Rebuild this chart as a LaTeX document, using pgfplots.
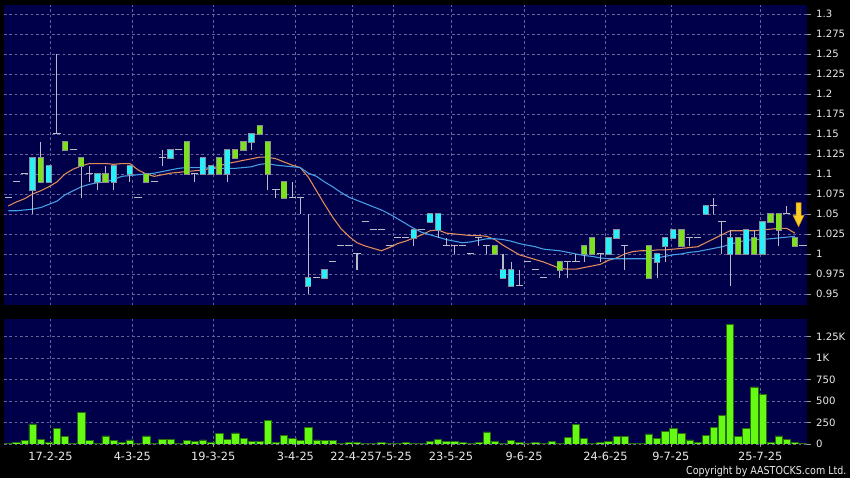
\documentclass[border=0pt]{standalone}
\usepackage{fontspec}
\setmainfont{DejaVu Sans}
\newfontfamily\cpfont[FakeStretch=0.87]{DejaVu Sans}
\usepackage{pgfplots}
\pgfplotsset{compat=1.18}
\usepackage{pgfplotstable}

\definecolor{navy}{RGB}{0,0,74}
\definecolor{gridc}{RGB}{100,100,155}
\definecolor{candcyan}{RGB}{40,240,250}
\definecolor{candgreen}{RGB}{125,225,30}
\definecolor{candedge}{RGB}{140,140,150}
\definecolor{volgreen}{RGB}{100,250,20}
\definecolor{voledge}{RGB}{40,110,10}
\definecolor{wick}{RGB}{185,185,200}
\definecolor{maorange}{RGB}{228,140,90}
\definecolor{mablue}{RGB}{70,160,230}
\definecolor{labc}{RGB}{235,235,235}
\definecolor{tickc}{RGB}{150,150,150}
\definecolor{arrowfill}{RGB}{250,205,40}
\definecolor{arrowedge}{RGB}{200,140,0}

% down arrow marker for the last bar
\pgfdeclareplotmark{downarrow}{%
  \pgfpathmoveto{\pgfqpoint{-1.9pt}{9pt}}%
  \pgfpathlineto{\pgfqpoint{1.9pt}{9pt}}%
  \pgfpathlineto{\pgfqpoint{1.9pt}{-0.5pt}}%
  \pgfpathlineto{\pgfqpoint{4.1pt}{-0.5pt}}%
  \pgfpathlineto{\pgfqpoint{0pt}{-9pt}}%
  \pgfpathlineto{\pgfqpoint{-4.1pt}{-0.5pt}}%
  \pgfpathlineto{\pgfqpoint{-1.9pt}{-0.5pt}}%
  \pgfpathclose
  \pgfusepathqfillstroke}

% t: 0 = no body, 1 = cyan, 2 = green
\pgfplotstableread{
i lo hi bot top t
0 1.07 1.07 1.07 1.07 0
1 1.09 1.09 1.09 1.09 0
2 1.10 1.10 1.10 1.10 0
3 1.05 1.12 1.08 1.12 1
4 1.09 1.14 1.09 1.12 2
5 1.09 1.11 1.09 1.11 1
6 1.15 1.25 1.15 1.15 0
7 1.13 1.14 1.13 1.14 2
8 1.13 1.13 1.13 1.13 0
9 1.07 1.12 1.11 1.12 2
10 1.09 1.11 1.10 1.10 0
11 1.08 1.10 1.09 1.10 1
12 1.09 1.11 1.09 1.10 2
13 1.08 1.11 1.09 1.11 1
15 1.09 1.11 1.10 1.11 1
16 1.07 1.07 1.07 1.07 0
17 1.09 1.10 1.09 1.10 2
18 1.09 1.09 1.09 1.09 0
19 1.11 1.13 1.12 1.12 0
20 1.12 1.13 1.12 1.13 1
21 1.13 1.13 1.13 1.13 0
22 1.10 1.14 1.10 1.14 2
23 1.09 1.10 1.10 1.10 0
24 1.10 1.12 1.10 1.12 1
25 1.10 1.11 1.10 1.11 1
26 1.10 1.12 1.10 1.12 2
27 1.09 1.13 1.10 1.13 1
28 1.12 1.13 1.12 1.13 2
29 1.13 1.14 1.13 1.14 2
30 1.13 1.15 1.14 1.15 1
31 1.15 1.16 1.15 1.16 2
32 1.08 1.14 1.10 1.14 2
33 1.07 1.08 1.08 1.08 0
34 1.07 1.09 1.07 1.09 2
35 1.07 1.09 1.07 1.07 0
36 1.05 1.07 1.07 1.07 0
37 0.95 1.05 0.96 0.97 1
38 0.97 0.97 0.97 0.97 0
39 0.97 0.98 0.97 0.98 1
40 0.99 0.99 0.99 0.99 0
41 1.01 1.01 1.01 1.01 0
42 1.01 1.01 1.01 1.01 0
43 0.98 1.00 1.00 1.00 0
44 1.04 1.04 1.04 1.04 0
45 1.03 1.03 1.03 1.03 0
46 1.03 1.03 1.03 1.03 0
47 1.01 1.01 1.01 1.01 0
48 1.02 1.02 1.02 1.02 0
49 1.02 1.02 1.02 1.02 0
50 1.01 1.03 1.02 1.03 1
51 1.03 1.03 1.03 1.03 0
52 1.04 1.05 1.04 1.05 1
53 1.02 1.05 1.03 1.05 1
54 1.01 1.02 1.01 1.01 0
55 1.00 1.01 1.01 1.01 0
56 1.01 1.01 1.01 1.01 0
57 1.00 1.00 1.00 1.00 0
58 1.01 1.02 1.02 1.02 0
59 1.00 1.01 1.01 1.01 0
60 1.00 1.01 1.00 1.01 2
61 0.97 1.00 0.97 0.98 1
62 0.96 0.99 0.96 0.98 1
63 0.96 0.98 0.96 0.96 0
64 0.99 0.99 0.99 0.99 0
65 0.98 0.98 0.98 0.98 0
66 0.97 0.97 0.97 0.97 0
68 0.97 0.99 0.98 0.99 2
69 0.97 0.99 0.99 0.99 0
70 0.99 1.00 0.99 0.99 0
71 0.99 1.01 1.00 1.01 2
72 1.00 1.02 1.00 1.02 2
73 0.99 1.00 1.00 1.00 0
74 1.00 1.02 1.00 1.02 1
75 1.02 1.03 1.02 1.03 1
76 0.98 1.01 1.01 1.01 0
79 0.97 1.01 0.97 1.01 2
80 0.97 1.00 0.99 1.00 1
81 0.99 1.02 1.01 1.02 1
82 1.02 1.03 1.02 1.03 1
83 1.01 1.03 1.01 1.03 2
84 1.01 1.02 1.02 1.02 0
85 1.02 1.02 1.02 1.02 0
86 1.05 1.06 1.05 1.06 1
87 1.05 1.07 1.06 1.06 0
88 1.00 1.04 1.04 1.04 0
89 0.96 1.03 1.00 1.02 1
90 1.00 1.02 1.00 1.02 2
91 1.00 1.03 1.00 1.03 1
92 1.00 1.03 1.00 1.02 2
93 1.00 1.04 1.00 1.04 1
94 1.04 1.05 1.04 1.05 2
95 1.01 1.05 1.03 1.05 2
96 1.05 1.06 1.05 1.05 0
97 1.01 1.02 1.01 1.02 2
98 1.01 1.01 1.01 1.01 0
}\candles

\pgfplotstableread{
i a b
0 1.060 1.054
1 1.065 1.054
2 1.069 1.055
3 1.075 1.056
4 1.079 1.058
5 1.084 1.062
6 1.090 1.066
7 1.100 1.074
8 1.106 1.079
9 1.110 1.084
10 1.113 1.087
11 1.113 1.089
12 1.113 1.090
13 1.112 1.093
14 1.113 1.097
15 1.113 1.098
16 1.105 1.099
17 1.100 1.100
18 1.097 1.101
19 1.099 1.103
20 1.101 1.105
21 1.102 1.107
22 1.103 1.108
23 1.104 1.108
24 1.105 1.108
25 1.107 1.107
26 1.110 1.107
27 1.113 1.107
28 1.115 1.107
29 1.117 1.108
30 1.119 1.109
31 1.121 1.112
32 1.121 1.113
33 1.119 1.111
34 1.115 1.110
35 1.111 1.109
36 1.108 1.108
37 1.096 1.101
38 1.079 1.097
39 1.062 1.090
40 1.046 1.084
41 1.032 1.077
42 1.022 1.071
43 1.014 1.067
44 1.010 1.063
45 1.007 1.059
46 1.004 1.055
47 1.008 1.050
48 1.013 1.044
49 1.016 1.038
50 1.020 1.032
51 1.024 1.027
52 1.029 1.024
53 1.030 1.021
54 1.026 1.018
55 1.025 1.016
56 1.024 1.014
57 1.023 1.015
58 1.023 1.017
59 1.022 1.019
60 1.018 1.019
61 1.011 1.018
62 1.005 1.016
63 0.999 1.013
64 0.996 1.011
65 0.993 1.009
66 0.990 1.006
67 0.986 1.005
68 0.982 1.004
69 0.981 1.002
70 0.981 1.000
71 0.983 0.998
72 0.985 0.997
73 0.987 0.995
74 0.992 0.994
75 0.995 0.994
76 1.000 0.994
77 1.003 0.994
78 1.004 0.994
79 1.004 0.994
80 1.005 0.995
81 1.005 0.997
82 1.006 0.999
83 1.007 1.000
84 1.008 1.002
85 1.009 1.003
86 1.014 1.005
87 1.019 1.007
88 1.024 1.009
89 1.029 1.012
90 1.029 1.015
91 1.029 1.017
92 1.029 1.018
93 1.030 1.018
94 1.031 1.019
95 1.032 1.020
96 1.032 1.021
97 1.026 1.022
}\mas

\pgfplotstableread{
i v
0 5
1 23
2 45
3 235
4 57
5 15
6 178
7 87
8 3
9 367
10 38
11 3
12 95
13 38
14 23
15 49
16 11
17 95
18 3
19 53
20 57
21 4
22 38
23 27
24 49
25 23
26 125
27 53
28 129
29 61
30 34
31 34
32 273
33 15
34 98
35 61
36 45
37 190
38 49
39 38
40 42
41 4
42 15
43 15
44 11
45 3
46 15
47 3
48 11
49 15
50 11
51 11
52 34
53 53
54 34
55 34
56 15
57 3
58 19
59 140
60 27
61 11
62 42
63 15
64 4
65 15
66 11
67 27
68 11
69 76
70 227
71 64
72 4
73 15
74 34
75 87
76 87
77 8
78 4
79 117
80 61
81 144
82 178
83 125
84 49
85 15
86 102
87 193
88 330
89 1390
90 87
91 186
92 665
93 578
94 15
95 95
96 57
97 15
98 11
}\vol

\pgfplotsset{
  chart/.style={
    scale only axis,
    width=602.6pt,
    xmin=-0.53, xmax=98.55,
    axis background/.style={fill=navy},
    axis line style={draw=none},
    xtick={5.2,15.29,25.28,35.41,42.44,47.47,54.59,63.61,73.64,81.71,92.73},
    grid=major,
    major grid style={gridc, dash pattern=on 2pt off 2pt, line width=0.5pt},
    ytick pos=right, xtick pos=left,
    tick align=outside,
    major tick length=2.4pt,
    tick style={tickc, line width=0.6pt},
    yticklabel style={font=\fontsize{7.6}{8}\selectfont, text=labc, xshift=0.6pt},
  },
  body/.style={draw=none, mark=none,
    /pgfplots/error bars/y dir=plus,
    /pgfplots/error bars/y explicit,
    /pgfplots/error bars/error mark=none},
}

\begin{document}
\begin{tikzpicture}
\fill[black] (0,0) rectangle (637.5pt,358.5pt);
\path[use as bounding box] (0,0) rectangle (637.5pt,358.5pt);

% price panel
\begin{axis}[chart,
  at={(3pt,129.4pt)}, anchor=south west,
  height=225.4pt,
  ymin=0.93563, ymax=1.31125,
  ytick={0.95,0.975,1,1.025,1.05,1.075,1.1,1.125,1.15,1.175,1.2,1.225,1.25,1.275,1.3},
  yticklabels={0.95,0.975,1,1.025,1.05,1.075,1.1,1.125,1.15,1.175,1.2,1.225,1.25,1.275,1.3},
  xticklabels={},
  x tick style={draw=none},
]
% moving averages
\addplot[maorange, line width=0.8pt, mark=none] table[x=i, y=a] {\mas};
\addplot[mablue, line width=0.8pt, mark=none] table[x=i, y=b] {\mas};

% wicks
\addplot[body, error bars/error bar style={draw=wick, line width=0.8pt, solid}]
  table[x=i, y=lo, y error expr=\thisrow{hi}-\thisrow{lo}] {\candles};
% no-body days
\addplot[only marks, mark=-, mark size=2.7pt,
  mark options={draw=wick, line width=0.8pt},
  restrict expr to domain={\thisrow{t}}{0:0}]
  table[x=i, y=bot] {\candles};
% cyan bodies
\addplot[body, restrict expr to domain={\thisrow{t}}{1:1},
  error bars/error bar style={draw=candedge, line width=4.7pt, solid}]
  table[x=i, y expr=\thisrow{bot}-0.0007, y error expr=\thisrow{top}-\thisrow{bot}+0.0014] {\candles};
\addplot[body, restrict expr to domain={\thisrow{t}}{1:1},
  error bars/error bar style={draw=candcyan, line width=3.8pt, solid}]
  table[x=i, y=bot, y error expr=\thisrow{top}-\thisrow{bot}] {\candles};
% green bodies
\addplot[body, restrict expr to domain={\thisrow{t}}{2:2},
  error bars/error bar style={draw=candedge, line width=4.7pt, solid}]
  table[x=i, y expr=\thisrow{bot}-0.0007, y error expr=\thisrow{top}-\thisrow{bot}+0.0014] {\candles};
\addplot[body, restrict expr to domain={\thisrow{t}}{2:2},
  error bars/error bar style={draw=candgreen, line width=3.8pt, solid}]
  table[x=i, y=bot, y error expr=\thisrow{top}-\thisrow{bot}] {\candles};

\addplot[only marks, mark=downarrow,
  mark options={fill=arrowfill, draw=arrowedge, line width=0.4pt}]
  coordinates {(97.45,1.049)};
\end{axis}

% volume panel
\begin{axis}[chart,
  at={(3pt,25.5pt)}, anchor=south west,
  height=93.75pt,
  ymin=0, ymax=1456,
  ytick={0,250,500,750,1000,1250},
  yticklabels={0,250,500,750,1K,1.25K},
  xticklabels={17-2-25,4-3-25,19-3-25,3-4-25,22-4-25,7-5-25,23-5-25,9-6-25,24-6-25,9-7-25,25-7-25},
  xticklabel style={font=\fontsize{8.5}{9}\selectfont, text=labc},
]
\addplot[ybar, bar width=0.9, fill=volgreen, draw=voledge, line width=0.4pt]
  table[x=i, y=v] {\vol};
\end{axis}

\node[anchor=base east, inner sep=0pt, text=labc,
  font=\cpfont\fontsize{8.2}{9}\selectfont] at (635pt,2.6pt)
  {Copyright by AASTOCKS.com Ltd.};
\end{tikzpicture}
\end{document}
